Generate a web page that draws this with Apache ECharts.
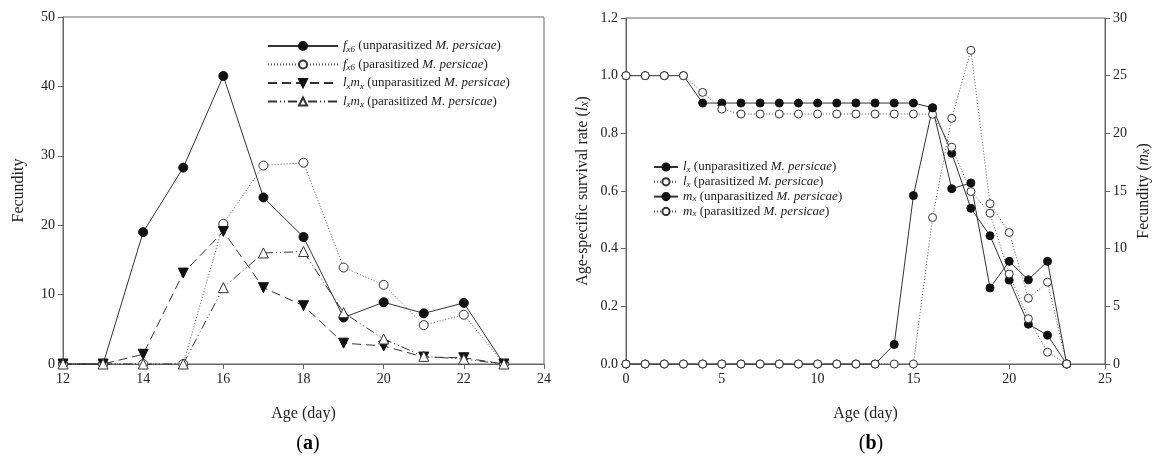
<!DOCTYPE html>
<html>
<head>
<meta charset="utf-8">
<script src="https://cdn.jsdelivr.net/npm/echarts@6/dist/echarts.min.js"></script>
<style>
  html, body { margin: 0; padding: 0; background: #fff; }
  #chart { width: 1164px; height: 461px; }
</style>
</head>
<body>
<div id="chart"></div>
<script>
// ---- Panel (a): age-stage fecundity and net maternity ----
const agesA = [12, 13, 14, 15, 16, 17, 18, 19, 20, 21, 22, 23];
const fx6Unpar  = [0, 0, 19.0, 28.3, 41.5, 24.0, 18.3, 6.7, 8.9, 7.3, 8.8, 0];
const fx6Par    = [0, 0, 0, 0, 20.2, 28.6, 29.0, 13.9, 11.4, 5.6, 7.1, 0];
const lxmxUnpar = [0, 0, 1.4, 13.1, 19.1, 11.0, 8.4, 3.0, 2.6, 1.0, 0.9, 0];
const lxmxPar   = [0, 0, 0, 0, 11.0, 16.0, 16.2, 7.4, 3.6, 1.1, 0.7, 0];
const ticksAx = [12, 24, 2];   // min, max, step
const ticksAy = [0, 50, 10];

// ---- Panel (b): survival rate and fecundity ----
const agesB = [0, 1, 2, 3, 4, 5, 6, 7, 8, 9, 10, 11, 12, 13, 14, 15, 16, 17, 18, 19, 20, 21, 22, 23];
const lxUnpar = [1, 1, 1, 1, 0.905, 0.905, 0.905, 0.905, 0.905, 0.905, 0.905, 0.905, 0.905, 0.905, 0.905, 0.905,
                 0.889, 0.731, 0.540, 0.445, 0.291, 0.138, 0.100, 0];
const lxPar   = [1, 1, 1, 1, 0.942, 0.884, 0.867, 0.867, 0.867, 0.867, 0.867, 0.867, 0.867, 0.867, 0.867, 0.867,
                 0.866, 0.752, 0.598, 0.523, 0.312, 0.157, 0.041, 0];
const mxUnpar = [0, 0, 0, 0, 0, 0, 0, 0, 0, 0, 0, 0, 0, 0, 1.7, 14.6,
                 22.2, 15.2, 15.7, 6.6, 8.9, 7.3, 8.9, 0];
const mxPar   = [0, 0, 0, 0, 0, 0, 0, 0, 0, 0, 0, 0, 0, 0, 0, 0,
                 12.7, 21.3, 27.2, 13.9, 11.4, 5.7, 7.1, 0];
const ticksBx  = [0, 25, 5];
const ticksBy  = [0, 1.2, 0.2];
const ticksBy2 = [0, 30, 5];

// legend entries: series name -> rich label
const legendA = {
  'fx6 (unparasitized M. persicae)':  '{i|f}{s|x6} (unparasitized {i|M. persicae})',
  'fx6 (parasitized M. persicae)':    '{i|f}{s|x6} (parasitized {i|M. persicae})',
  'lxmx (unparasitized M. persicae)': '{i|l}{s|x}{i|m}{s|x} (unparasitized {i|M. persicae})',
  'lxmx (parasitized M. persicae)':   '{i|l}{s|x}{i|m}{s|x} (parasitized {i|M. persicae})'
};
const legendB = {
  'lx (unparasitized M. persicae)': '{i|l}{s|x} (unparasitized {i|M. persicae})',
  'lx (parasitized M. persicae)':   '{i|l}{s|x} (parasitized {i|M. persicae})',
  'mx (unparasitized M. persicae)': '{i|m}{s|x} (unparasitized {i|M. persicae})',
  'mx (parasitized M. persicae)':   '{i|m}{s|x} (parasitized {i|M. persicae})'
};

const FONT = 'Liberation Serif';
const INK = '#222';
const AXIS = '#666';

const pairs = (xs, ys) => xs.map((x, i) => [x, ys[i]]);

const richText = (size, lh) => ({
  i: { fontFamily: FONT, fontStyle: 'italic', fontSize: size, color: INK, lineHeight: lh },
  s: { fontFamily: FONT, fontStyle: 'italic', fontSize: size - 4, color: INK, lineHeight: 9, verticalAlign: 'bottom' }
});

function valueAxis(range, gridIndex, extra) {
  return Object.assign({
    type: 'value',
    gridIndex: gridIndex,
    min: range[0], max: range[1], interval: range[2],
    axisLine: { show: true, onZero: false, lineStyle: { color: AXIS, width: 1 } },
    axisTick: { show: true, inside: false, length: 5, lineStyle: { color: AXIS } },
    axisLabel: { color: INK, fontFamily: FONT, fontSize: 14, margin: 8 },
    splitLine: { show: false },
    nameTextStyle: { color: INK, fontFamily: FONT, fontSize: 16 }
  }, extra || {});
}

function lineSeries(name, data, opts) {
  return Object.assign({
    type: 'line',
    name: name,
    data: data,
    symbol: 'circle',
    symbolSize: 9,
    lineStyle: { color: '#333', width: 1, type: 'solid' },
    itemStyle: { color: '#111', borderColor: '#111', borderWidth: 1 },
    emphasis: { disabled: true },
    clip: false,
    z: 3
  }, opts);
}

const openStyle = { color: '#fff', borderColor: '#333', borderWidth: 1 };

const chart = echarts.init(document.getElementById('chart'), null, { renderer: 'canvas' });

chart.setOption({
  animation: false,
  backgroundColor: '#fff',
  textStyle: { fontFamily: FONT },
  grid: [
    { left: 63, right: 620, top: 17, bottom: 97, show: true, borderColor: AXIS, borderWidth: 1, backgroundColor: 'transparent' },
    { left: 626, right: 59, top: 18, bottom: 97, show: true, borderColor: AXIS, borderWidth: 1, backgroundColor: 'transparent' }
  ],
  xAxis: [
    valueAxis(ticksAx, 0, { name: 'Age (day)', nameLocation: 'middle', nameGap: 42 }),
    valueAxis(ticksBx, 1, { name: 'Age (day)', nameLocation: 'middle', nameGap: 42 })
  ],
  yAxis: [
    valueAxis(ticksAy, 0, { name: 'Fecundity', nameLocation: 'middle', nameRotate: 90, nameGap: 36 }),
    valueAxis(ticksBy, 1, {
      name: 'Age-specific survival rate ({i|l}{s|x})', nameLocation: 'middle', nameRotate: 90, nameGap: 35,
      axisLabel: { color: INK, fontFamily: FONT, fontSize: 14, margin: 8, formatter: v => v.toFixed(1) },
      nameTextStyle: { color: INK, fontFamily: FONT, fontSize: 16, rich: richText(16, 16) }
    }),
    valueAxis(ticksBy2, 1, {
      position: 'right',
      name: 'Fecundity ({i|m}{s|x})', nameLocation: 'middle', nameRotate: 90, nameGap: 31,
      nameTextStyle: { color: INK, fontFamily: FONT, fontSize: 16, rich: richText(16, 16) }
    })
  ],
  legend: [
    {
      data: Object.keys(legendA),
      left: 262, top: 33,
      orient: 'vertical',
      itemWidth: 70, itemHeight: 10, itemGap: 2.5,
      formatter: n => legendA[n],
      textStyle: { color: INK, fontFamily: FONT, fontSize: 13, lineHeight: 16, rich: richText(13, 16) },
      selectedMode: false
    },
    {
      data: Object.keys(legendB),
      left: 648, top: 155,
      orient: 'vertical',
      itemWidth: 24, itemHeight: 9, itemGap: 0.8,
      formatter: n => legendB[n],
      textStyle: { color: INK, fontFamily: FONT, fontSize: 13, lineHeight: 14, rich: richText(13, 14) },
      selectedMode: false
    }
  ],
  title: [
    { text: '({b|a})', left: 303, top: 429, textAlign: 'center',
      textStyle: { fontFamily: FONT, fontSize: 20, fontWeight: 'normal', color: '#000',
        rich: { b: { fontFamily: FONT, fontSize: 20, fontWeight: 'bold', color: '#000' } } } },
    { text: '({b|b})', left: 866, top: 429, textAlign: 'center',
      textStyle: { fontFamily: FONT, fontSize: 20, fontWeight: 'normal', color: '#000',
        rich: { b: { fontFamily: FONT, fontSize: 20, fontWeight: 'bold', color: '#000' } } } }
  ],
  series: [
    // panel (a)
    lineSeries('fx6 (unparasitized M. persicae)', pairs(agesA, fx6Unpar), { xAxisIndex: 0, yAxisIndex: 0 }),
    lineSeries('fx6 (parasitized M. persicae)', pairs(agesA, fx6Par), {
      xAxisIndex: 0, yAxisIndex: 0,
      lineStyle: { color: '#555', width: 1, type: [1, 2] },
      itemStyle: openStyle
    }),
    lineSeries('lxmx (unparasitized M. persicae)', pairs(agesA, lxmxUnpar), {
      xAxisIndex: 0, yAxisIndex: 0,
      symbol: 'triangle', symbolRotate: 180, symbolSize: 10,
      lineStyle: { color: '#333', width: 1, type: [9, 5] }
    }),
    lineSeries('lxmx (parasitized M. persicae)', pairs(agesA, lxmxPar), {
      xAxisIndex: 0, yAxisIndex: 0,
      symbol: 'triangle', symbolSize: 10,
      lineStyle: { color: '#333', width: 1, type: [9, 3, 1, 3, 1, 3] },
      itemStyle: openStyle
    }),
    // panel (b)
    lineSeries('lx (unparasitized M. persicae)', pairs(agesB, lxUnpar), {
      xAxisIndex: 1, yAxisIndex: 1, symbolSize: 8
    }),
    lineSeries('lx (parasitized M. persicae)', pairs(agesB, lxPar), {
      xAxisIndex: 1, yAxisIndex: 1, symbolSize: 8,
      lineStyle: { color: '#555', width: 1, type: [1, 2] },
      itemStyle: openStyle
    }),
    lineSeries('mx (unparasitized M. persicae)', pairs(agesB, mxUnpar), {
      xAxisIndex: 1, yAxisIndex: 2, symbolSize: 8
    }),
    lineSeries('mx (parasitized M. persicae)', pairs(agesB, mxPar), {
      xAxisIndex: 1, yAxisIndex: 2, symbolSize: 8,
      lineStyle: { color: '#555', width: 1, type: [1, 2] },
      itemStyle: openStyle
    })
  ]
});
</script>
</body>
</html>
